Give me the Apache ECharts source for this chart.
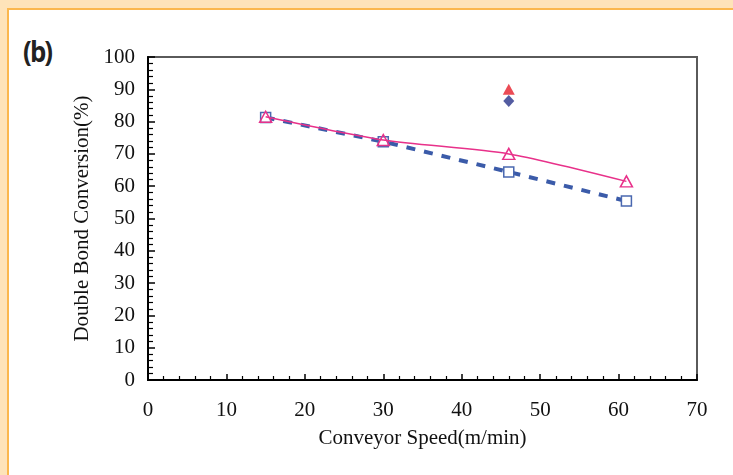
<!DOCTYPE html>
<html><head><meta charset="utf-8">
<script src="https://cdn.jsdelivr.net/npm/echarts@6/dist/echarts.min.js"></script>
<style>
html,body{margin:0;padding:0;background:#FEE3B9;}
#frame{position:absolute;left:7px;top:8px;width:740px;height:480px;background:#fff;border-left:2px solid #FBB74E;border-top:2px solid #FBB74E;}
#c{position:absolute;left:0;top:0;width:733px;height:475px;}
#lab{position:absolute;left:23px;top:32px;font-family:"Open Sans",sans-serif;font-weight:bold;font-size:28px;color:#222;letter-spacing:-2px;transform:scaleX(0.92);transform-origin:left top;}
</style></head>
<body>
<div id="frame"></div>
<div id="lab">(b)</div>
<div id="c"></div>
<script>
const speeds = [15, 30, 46, 61];
const triangleSeries = [81.5, 74.3, 70.0, 61.5];
const squareSeries = [81.3, 73.8, 64.4, 55.4];
const redPoint = [[46, 90.0]];
const diamondPoint = [[46, 86.4]];
const xTicks = [0, 10, 20, 30, 40, 50, 60, 70];
const yTicks = [0, 10, 20, 30, 40, 50, 60, 70, 80, 90, 100];

const font = '"Liberation Serif","Times New Roman",serif';
const chart = echarts.init(document.getElementById('c'), null, {renderer:'canvas'});
const pairs = arr => speeds.map((s,i)=>[s, arr[i]]);
chart.setOption({
  animation:false,
  backgroundColor:'transparent',
  grid:{left:148, right:36, top:57, bottom:95, show:true, borderColor:'#5a5a5a', borderWidth:2, backgroundColor:'transparent'},
  xAxis:{type:'value', min:xTicks[0], max:xTicks[xTicks.length-1], interval:10,
    name:'Conveyor Speed(m/min)', nameLocation:'middle', nameGap:48,
    nameTextStyle:{fontFamily:font, fontSize:21, color:'#111'},
    axisLine:{show:true, lineStyle:{color:'#000', width:2}},
    axisTick:{show:true, inside:true, length:6, lineStyle:{color:'#000', width:1.5}},
    minorTick:{show:true, splitNumber:5, length:4, lineStyle:{color:'#000', width:1.2}},
    splitLine:{show:false},
    axisLabel:{fontFamily:font, fontSize:21, color:'#111', margin:20}},
  yAxis:{type:'value', min:yTicks[0], max:yTicks[yTicks.length-1], interval:10,
    name:'Double Bond Conversion(%)', nameLocation:'middle', nameGap:48,
    nameTextStyle:{fontFamily:font, fontSize:21, color:'#111'},
    axisLine:{show:true, lineStyle:{color:'#000', width:2}},
    axisTick:{show:true, inside:true, length:7, lineStyle:{color:'#000', width:1.5}},
    minorTick:{show:true, splitNumber:5, length:5, lineStyle:{color:'#000', width:1.2}},
    splitLine:{show:false},
    axisLabel:{fontFamily:font, fontSize:21, color:'#111', margin:13}},
  series:[
    {type:'line', data:pairs(squareSeries), symbol:'rect', symbolSize:10, showAllSymbol:true,
      lineStyle:{color:'#3B5BA9', width:4, type:[9,9]},
      itemStyle:{color:'#fff', borderColor:'#4A68B0', borderWidth:1.5}, z:2},
    {type:'line', data:pairs(triangleSeries), symbol:'triangle', symbolSize:[12,11], smooth:0.25,
      lineStyle:{color:'#E8318A', width:1.5},
      itemStyle:{color:'rgba(255,255,255,0)', borderColor:'#E8318A', borderWidth:1.5}, z:3},
    {type:'scatter', data:redPoint, symbol:'triangle', symbolSize:[12,11],
      itemStyle:{color:'#E61E2A'}},
    {type:'scatter', data:diamondPoint, symbol:'diamond', symbolSize:[11,12],
      itemStyle:{color:'#28338A'}}
  ]
});
</script>
</body></html>
